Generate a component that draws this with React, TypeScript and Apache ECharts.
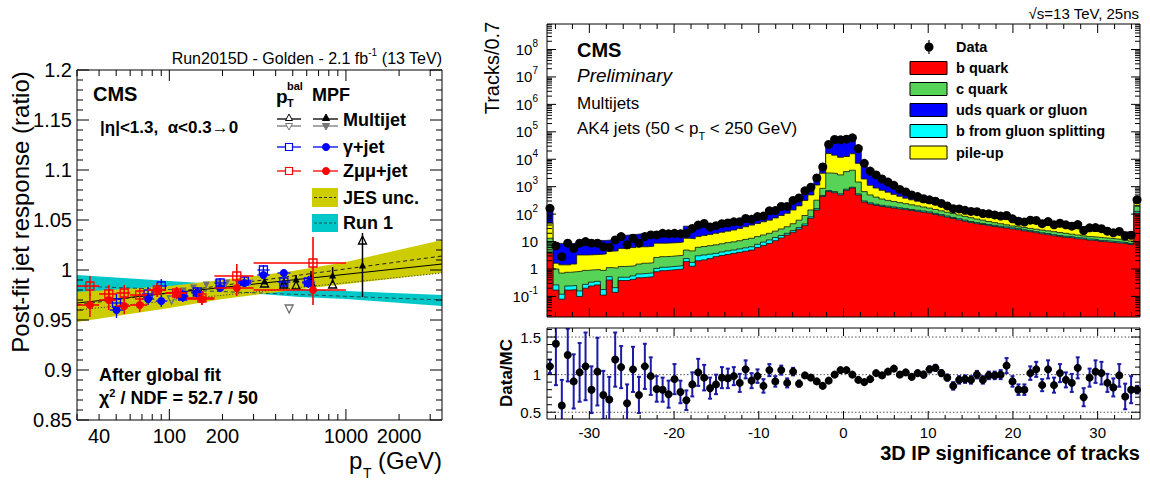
import React, { useEffect, useRef } from "react";
import * as echarts from "echarts";

const FONT = "'Liberation Sans', Arial, Helvetica, sans-serif";
const lg = (v: number) => Math.log10(v);

// ================= Left panel: post-fit jet response =================
const respPtMin = 30;
const respPtMax = 3500;
const respYMin = 0.85;
const respYMax = 1.2;
const respXTickValues = [30, 40, 50, 60, 70, 80, 90, 100, 200, 300, 400, 500, 600, 700, 800, 900, 1000, 2000, 3000];
const respXTickLabels = ["", "40", "", "", "", "", "", "100", "200", "", "", "", "", "", "", "", "1000", "2000", ""];
const respYTickLabels = ["0.85", "0.9", "0.95", "1", "1.05", "1.1", "1.15", "1.2"];

// Z(mumu)+jet
const zjetPt = [35.5, 45.4, 55.5, 68, 85.5, 110, 153, 241, 651];
const zjetPtLow = [30, 40, 50, 60, 75, 95, 125, 180, 300];
const zjetPtHigh = [40, 50, 60, 75, 95, 125, 180, 300, 1000];
const zjetMpf = [0.965, 0.970, 0.964, 0.965, 0.980, 0.977, 0.971, 0.982, 0.980];
const zjetMpfErr = [0.012, 0.010, 0.008, 0.007, 0.007, 0.006, 0.006, 0.008, 0.015];
const zjetBal = [0.984, 0.976, 0.977, 0.975, 0.980, 0.977, 0.972, 0.994, 1.007];
const zjetBalErr = [0.010, 0.009, 0.008, 0.007, 0.007, 0.006, 0.007, 0.012, 0.026];

// gamma+jet
const gjetPt = [50.2, 75.8, 90, 119, 144, 194, 266, 341, 445, 613];
const gjetPtLow = [46, 70, 84, 110, 133, 180, 245, 315, 410, 565];
const gjetPtHigh = [55, 82, 97, 128, 156, 210, 290, 370, 485, 665];
const gjetMpf = [0.960, 0.971, 0.969, 0.973, 0.977, 0.982, 0.987, 0.995, 0.997, 0.987];
const gjetMpfErr = [0.008, 0.006, 0.006, 0.005, 0.005, 0.004, 0.004, 0.004, 0.004, 0.005];
const gjetBal = [0.967, 0.976, 0.984, 0.974, 0.978, 0.987, 0.989, 1.000, 0.988, 0.988];
const gjetBalErr = [0.009, 0.007, 0.007, 0.006, 0.005, 0.005, 0.005, 0.005, 0.005, 0.006];

// Multijet
const mjPt = [346, 445, 522, 634, 841, 1241];
const mjMpf = [0.989, 0.989, 0.991, 0.993, 0.995, 1.005];
const mjMpfErr = [0.003, 0.003, 0.004, 0.006, 0.008, 0.032];
const mjBal = [0.987, 0.986, 0.985, 0.988, 0.986, 1.030];
// Multijet (second reference, grey)
const mjAltMpfPt = [120, 137, 162, 188, 211, 245, 286, 445];
const mjAltMpf = [0.979, 0.982, 0.985, 0.987, 0.987, 0.986, 0.987, 0.984];
const mjAltBalPt = [103, 477];
const mjAltBal = [0.970, 0.961];

// Bands and fit lines
const jesPt = [30, 100, 200, 500, 1000, 3500];
const jesLow = [0.948, 0.962, 0.971, 0.980, 0.986, 0.997];
const jesHigh = [0.978, 0.984, 0.990, 0.999, 1.008, 1.030];
const run1Pt = [30, 100, 230, 550, 1000, 3500];
const run1Low = [0.972, 0.977, 0.978, 0.973, 0.971, 0.964];
const run1High = [0.995, 0.989, 0.985, 0.981, 0.979, 0.975];
const linePt = [30, 3500];
const fitMpfLine = [0.967, 1.006];
const fitBalLine = [0.960, 0.997];
const jesCenterLine = [0.965, 1.014];
const run1CenterLine = [0.984, 0.970];

// ================= Right panel: 3D IP significance =================
const IP_MIN = -35;
const IP_MAX = 35;
const BIN_W = 0.7;
const TOP_YMIN = -1.75; // log10(tracks)
const TOP_YMAX = 8.93;
const RATIO_YMIN = 0.41;
const RATIO_YMAX = 1.62;
const ipTickLabels: Record<string, string> = { "-30": "-30", "-20": "-20", "-10": "-10", "0": "0", "10": "10", "20": "20", "30": "30" };

// cumulative stack heights, log10(tracks / 0.7), bottom to top
const bQuarkTop = [
  0.57, -0.77, -1.10, -0.77, -0.75, -1.00, -0.70, -0.62, -0.58, -0.95,
  -0.40, -0.85, -0.42, -0.42, -0.38, -0.32, -0.30, -0.28, -0.10, -0.06,
  -0.04, -0.02, 0.00, 0.27, 0.10, 0.30, 0.33, 0.38, 0.45, 0.49,
  0.53, 0.57, 0.61, 0.65, 0.69, 0.78, 0.86, 0.93, 1.03, 1.13,
  1.24, 1.34, 1.45, 1.58, 1.85, 2.15, 2.64, 2.82, 2.78, 2.70,
  2.87, 2.95, 2.70, 2.44, 2.37, 2.32, 2.28, 2.25, 2.22, 2.19,
  2.16, 2.13, 2.10, 2.07, 2.04, 1.99, 1.94, 1.89, 1.84, 1.79,
  1.74, 1.69, 1.65, 1.62, 1.58, 1.55, 1.52, 1.49, 1.46, 1.43,
  1.39, 1.36, 1.32, 1.28, 1.25, 1.21, 1.18, 1.15, 1.13, 1.10,
  1.08, 1.05, 1.03, 1.00, 0.98, 0.96, 0.94, 0.92, 0.89, 2.04,
];
const gluonSplitTop = [
  0.62, -0.58, -0.92, -0.62, -0.60, -0.80, -0.56, -0.48, -0.45, -0.75,
  -0.28, -0.68, -0.30, -0.30, -0.25, -0.18, -0.16, -0.14, 0.02, 0.06,
  0.08, 0.10, 0.12, 0.38, 0.24, 0.48, 0.51, 0.54, 0.57, 0.62,
  0.66, 0.69, 0.73, 0.77, 0.81, 0.90, 0.98, 1.06, 1.15, 1.22,
  1.30, 1.40, 1.51, 1.64, 1.90, 2.20, 2.68, 2.86, 2.82, 2.74,
  2.91, 2.98, 2.74, 2.48, 2.41, 2.36, 2.32, 2.29, 2.26, 2.23,
  2.20, 2.17, 2.14, 2.11, 2.08, 2.03, 1.98, 1.93, 1.88, 1.83,
  1.78, 1.73, 1.69, 1.66, 1.62, 1.59, 1.56, 1.53, 1.50, 1.47,
  1.43, 1.40, 1.36, 1.32, 1.29, 1.25, 1.22, 1.19, 1.17, 1.14,
  1.12, 1.09, 1.07, 1.04, 1.02, 1.00, 0.98, 0.96, 0.93, 2.10,
];
const cQuarkTop = [
  1.12, 0.00, -0.15, -0.12, -0.10, -0.08, -0.05, -0.03, -0.02, -0.05,
  0.05, 0.03, 0.09, 0.10, 0.12, 0.18, 0.21, 0.23, 0.42, 0.45,
  0.46, 0.48, 0.50, 0.69, 0.66, 0.79, 0.82, 0.85, 0.88, 0.92,
  0.96, 0.99, 1.03, 1.08, 1.12, 1.18, 1.24, 1.30, 1.38, 1.46,
  1.54, 1.65, 1.78, 1.95, 2.15, 2.51, 2.94, 3.50, 3.48, 3.43,
  3.55, 3.60, 3.17, 2.82, 2.70, 2.62, 2.55, 2.50, 2.46, 2.42,
  2.38, 2.34, 2.30, 2.26, 2.22, 2.17, 2.12, 2.07, 2.02, 1.97,
  1.92, 1.87, 1.82, 1.78, 1.73, 1.69, 1.65, 1.61, 1.57, 1.54,
  1.51, 1.48, 1.45, 1.42, 1.39, 1.36, 1.33, 1.30, 1.27, 1.24,
  1.21, 1.18, 1.16, 1.14, 1.12, 1.10, 1.08, 1.05, 1.02, 2.30,
];
const pileupTop = [
  1.67, 0.21, 0.15, 0.15, 0.18, 0.51, 0.51, 0.52, 0.53, 0.55,
  0.65, 0.66, 0.75, 0.75, 0.78, 0.81, 0.81, 0.83, 0.94, 0.94,
  0.95, 0.96, 0.98, 1.12, 1.10, 1.18, 1.22, 1.26, 1.30, 1.34,
  1.38, 1.42, 1.48, 1.54, 1.60, 1.66, 1.72, 1.78, 1.86, 1.95,
  2.03, 2.15, 2.30, 2.50, 2.70, 3.06, 3.49, 4.21, 4.15, 4.07,
  4.10, 4.20, 3.85, 3.28, 3.05, 2.95, 2.87, 2.80, 2.72, 2.65,
  2.58, 2.52, 2.47, 2.43, 2.39, 2.34, 2.29, 2.24, 2.19, 2.14,
  2.10, 2.05, 2.01, 1.97, 1.93, 1.88, 1.84, 1.80, 1.77, 1.74,
  1.71, 1.68, 1.65, 1.62, 1.59, 1.56, 1.53, 1.50, 1.47, 1.45,
  1.42, 1.40, 1.37, 1.35, 1.32, 1.30, 1.28, 1.26, 1.24, 2.45,
];
const udsTop = [
  2.21, 0.94, 0.92, 0.92, 0.94, 0.96, 0.98, 1.00, 1.00, 1.04,
  1.06, 1.06, 1.22, 1.24, 1.26, 1.28, 1.30, 1.32, 1.34, 1.36,
  1.38, 1.40, 1.42, 1.56, 1.56, 1.58, 1.60, 1.62, 1.64, 1.67,
  1.70, 1.73, 1.77, 1.81, 1.85, 1.92, 2.00, 2.09, 2.17, 2.25,
  2.33, 2.48, 2.65, 2.85, 3.00, 3.36, 3.79, 4.58, 4.72, 4.68,
  4.70, 4.78, 4.42, 3.90, 3.60, 3.42, 3.28, 3.15, 3.02, 2.90,
  2.80, 2.71, 2.63, 2.56, 2.49, 2.43, 2.38, 2.32, 2.27, 2.22,
  2.17, 2.13, 2.09, 2.05, 2.01, 1.97, 1.93, 1.90, 1.87, 1.84,
  1.81, 1.77, 1.74, 1.72, 1.70, 1.68, 1.66, 1.64, 1.61, 1.58,
  1.55, 1.52, 1.49, 1.46, 1.43, 1.40, 1.37, 1.35, 1.33, 2.62,
];
const dataLog = [
  2.21, 0.84, 0.45, 0.94, 0.75, 0.94, 1.00, 0.94, 0.94, 0.81,
  0.79, 1.06, 1.18, 0.88, 1.12, 0.94, 1.18, 1.24, 1.24, 1.30,
  1.28, 1.30, 1.28, 1.30, 1.48, 1.60, 1.66, 1.53, 1.58, 1.65,
  1.68, 1.72, 1.72, 1.84, 1.81, 1.91, 1.93, 2.12, 2.13, 2.28,
  2.28, 2.50, 2.59, 2.85, 2.98, 3.32, 3.72, 4.54, 4.72, 4.71,
  4.73, 4.78, 4.39, 3.85, 3.57, 3.43, 3.28, 3.17, 3.05, 2.90,
  2.81, 2.70, 2.64, 2.56, 2.52, 2.47, 2.39, 2.30, 2.20, 2.19,
  2.14, 2.10, 2.09, 2.02, 2.01, 1.97, 1.93, 1.95, 1.83, 1.74,
  1.71, 1.78, 1.77, 1.65, 1.73, 1.61, 1.67, 1.61, 1.56, 1.62,
  1.40, 1.50, 1.51, 1.47, 1.38, 1.32, 1.37, 1.20, 1.23, 2.52,
];
const ratioVal = [
  1.11, 1.41, 0.59, 1.26, 0.91, 1.03, 1.11, 0.80, 1.04, 0.73,
  0.67, 1.20, 1.10, 0.62, 1.07, 0.73, 1.11, 0.98, 0.81, 0.80,
  0.74, 0.94, 0.77, 0.66, 0.87, 1.03, 0.96, 0.82, 0.87, 0.96,
  0.95, 0.98, 0.89, 1.07, 0.92, 0.98, 0.85, 1.06, 0.91, 1.06,
  0.89, 1.04, 0.88, 0.99, 0.96, 0.91, 0.85, 0.92, 1.00, 1.06,
  1.06, 1.00, 0.93, 0.90, 0.94, 1.02, 0.99, 1.04, 1.08, 1.00,
  1.03, 0.97, 1.02, 1.00, 1.07, 1.09, 1.02, 0.96, 0.85, 0.93,
  0.94, 0.93, 1.00, 0.93, 0.99, 0.99, 1.00, 1.12, 0.91, 0.80,
  0.80, 1.02, 1.07, 0.86, 1.07, 0.86, 1.02, 0.93, 0.89, 1.09,
  0.70, 0.96, 1.04, 1.02, 0.89, 0.83, 0.99, 0.71, 0.80, 0.80,
];
const ratioErr = [
  0.09, 0.55, 0.34, 0.35, 0.36, 0.39, 0.45, 0.31, 0.45, 0.32,
  0.30, 0.36, 0.28, 0.25, 0.30, 0.24, 0.30, 0.25, 0.17, 0.16,
  0.18, 0.20, 0.15, 0.13, 0.16, 0.18, 0.17, 0.14, 0.13, 0.14,
  0.13, 0.12, 0.12, 0.12, 0.10, 0.09, 0.09, 0.08, 0.07, 0.06,
  0.06, 0.05, 0.04, 0.02, 0.02, 0.01, 0.01, 0.01, 0.01, 0.01,
  0.01, 0.01, 0.01, 0.01, 0.01, 0.01, 0.02, 0.02, 0.02, 0.03,
  0.03, 0.03, 0.03, 0.04, 0.04, 0.04, 0.04, 0.04, 0.05, 0.05,
  0.05, 0.05, 0.05, 0.05, 0.05, 0.05, 0.06, 0.10, 0.07, 0.07,
  0.07, 0.09, 0.10, 0.08, 0.12, 0.10, 0.12, 0.10, 0.12, 0.14,
  0.12, 0.12, 0.15, 0.15, 0.12, 0.12, 0.15, 0.17, 0.18, 0.05,
];

const COL = {
  b: "#ff0000",
  gs: "#00ffff",
  c: "#57d457",
  pu: "#ffff00",
  uds: "#0000ff",
  jes: "#cccc00",
  run1: "#00c8c8",
  ratioErr: "#1b1ba8",
};

// ---------------- helpers ----------------
function frameSeries(gi: number, xr: number[], yr: number[]) {
  return {
    type: "custom", xAxisIndex: gi, yAxisIndex: gi, silent: true, clip: false, z: 30,
    data: [[xr[0], yr[0]]],
    renderItem: (_p: any, api: any) => {
      const a = api.coord([xr[0], yr[1]]);
      const b = api.coord([xr[1], yr[0]]);
      return { type: "rect", shape: { x: a[0], y: a[1], width: b[0] - a[0], height: b[1] - a[1] }, style: { fill: "none", stroke: "#000", lineWidth: 1 } };
    },
  };
}

function tickSeries(gi: number, dir: "x" | "y", vals: number[], majors: boolean[], labels: string[], xr: number[], yr: number[], majLen: number, minLen: number, gap: number, fontSize: number, rich?: any) {
  return {
    type: "custom", xAxisIndex: gi, yAxisIndex: gi, silent: true, clip: false, z: 31,
    data: vals.map((v) => (dir === "x" ? [v, yr[0]] : [xr[0], v])),
    encode: { x: 0, y: 1 },
    renderItem: (params: any, api: any) => {
      const i = params.dataIndex;
      const v = vals[i];
      const L = majors[i] ? majLen : minLen;
      const ls = { stroke: "#000", lineWidth: 1 };
      const ch: any[] = [];
      if (dir === "x") {
        const a = api.coord([v, yr[0]]);
        const b = api.coord([v, yr[1]]);
        ch.push({ type: "line", shape: { x1: a[0], y1: a[1], x2: a[0], y2: a[1] - L }, style: ls });
        ch.push({ type: "line", shape: { x1: b[0], y1: b[1], x2: b[0], y2: b[1] + L }, style: ls });
        if (labels[i]) ch.push({ type: "text", x: a[0], y: a[1] + gap, style: { text: labels[i], fontSize, fontFamily: FONT, fill: "#000", align: "center", verticalAlign: "middle" } });
      } else {
        const a = api.coord([xr[0], v]);
        const b = api.coord([xr[1], v]);
        ch.push({ type: "line", shape: { x1: a[0], y1: a[1], x2: a[0] + L, y2: a[1] }, style: ls });
        ch.push({ type: "line", shape: { x1: b[0], y1: b[1], x2: b[0] - L, y2: b[1] }, style: ls });
        if (labels[i]) ch.push({ type: "text", x: a[0] - gap, y: a[1], style: { text: labels[i], fontSize, fontFamily: FONT, fill: "#000", align: "right", verticalAlign: "middle", lineHeight: 22, rich: rich || {} } });
      }
      return { type: "group", children: ch };
    },
  };
}

function bandSeries(pt: number[], low: number[], high: number[], color: string, z: number) {
  return {
    type: "custom", xAxisIndex: 0, yAxisIndex: 0, silent: true, clip: true, z,
    data: [[lg(pt[0]), low[0]]],
    renderItem: (_p: any, api: any) => {
      const pts: number[][] = [];
      for (let i = 0; i < pt.length; i++) pts.push(api.coord([lg(pt[i]), high[i]]));
      for (let i = pt.length - 1; i >= 0; i--) pts.push(api.coord([lg(pt[i]), low[i]]));
      return { type: "polygon", shape: { points: pts }, style: { fill: color } };
    },
  };
}

function lineSeries(vals: number[], type: any, color: string, z: number) {
  return {
    type: "line", xAxisIndex: 0, yAxisIndex: 0, silent: true, symbol: "none", z,
    data: linePt.map((p, i) => [lg(p), vals[i]]),
    lineStyle: { color, width: 1, type },
  };
}

function errSeries(pt: number[], val: number[], err: number[], lo: number[] | null, hi: number[] | null, color: string, width: number, z: number) {
  return {
    type: "custom", xAxisIndex: 0, yAxisIndex: 0, silent: true, clip: true, z,
    data: pt.map((p, i) => [lg(p), val[i]]),
    renderItem: (params: any, api: any) => {
      const i = params.dataIndex;
      const x = lg(pt[i]);
      const top = api.coord([x, val[i] + err[i]]);
      const bot = api.coord([x, val[i] - err[i]]);
      const ch: any[] = [{ type: "line", shape: { x1: top[0], y1: top[1], x2: bot[0], y2: bot[1] }, style: { stroke: color, lineWidth: width } }];
      if (lo && hi) {
        const l = api.coord([lg(lo[i]), val[i]]);
        const r = api.coord([lg(hi[i]), val[i]]);
        ch.push({ type: "line", shape: { x1: l[0], y1: l[1], x2: r[0], y2: r[1] }, style: { stroke: color, lineWidth: width } });
      }
      return { type: "group", children: ch };
    },
  };
}

function markerSeries(pt: number[], val: number[], symbol: string, size: number, color: string, filled: boolean, rotate: number, z: number) {
  return {
    type: "scatter", xAxisIndex: 0, yAxisIndex: 0, silent: true, z,
    data: pt.map((p, i) => [lg(p), val[i]]),
    symbol, symbolSize: size, symbolRotate: rotate,
    itemStyle: filled ? { color, opacity: 1 } : { color: "rgba(255,255,255,0)", borderColor: color, borderWidth: 1.3, opacity: 1 },
  };
}

function binLow(i: number) {
  return IP_MIN + i * BIN_W;
}

function stepSeries(vals: number[], color: string, z: number) {
  const data: number[][] = [];
  vals.forEach((v, i) => {
    data.push([binLow(i), v]);
    data.push([binLow(i) + BIN_W, v]);
  });
  return {
    type: "line", xAxisIndex: 1, yAxisIndex: 1, silent: true, symbol: "none", z,
    data,
    lineStyle: { color: "#111", width: 0.8 },
    areaStyle: { color, opacity: 1, origin: "start" },
  };
}

function buildOption() {
  // ---- tick definitions ----
  const respYVals: number[] = [];
  const respYMaj: boolean[] = [];
  const respYLab: string[] = [];
  for (let k = 85; k <= 120; k++) {
    respYVals.push(k / 100);
    const maj = k % 5 === 0;
    respYMaj.push(maj);
    respYLab.push(maj ? respYTickLabels[(k - 85) / 5] : "");
  }
  const respXVals = respXTickValues.map(lg);
  const respXMaj = respXTickValues.map((v) => v === 100 || v === 1000);

  const ipVals: number[] = [];
  const ipMaj: boolean[] = [];
  const ipLab: string[] = [];
  for (let v = -34; v <= 34; v += 2) {
    ipVals.push(v);
    ipMaj.push(v % 10 === 0);
    ipLab.push(ipTickLabels[String(v)] || "");
  }

  const logVals: number[] = [];
  const logMaj: boolean[] = [];
  const logLab: string[] = [];
  for (let n = -2; n <= 8; n++) {
    for (let k = 1; k <= 9; k++) {
      const v = n + Math.log10(k);
      if (v < TOP_YMIN || v > TOP_YMAX) continue;
      logVals.push(v);
      logMaj.push(k === 1);
      let lab = "";
      if (k === 1) lab = n === 0 ? "1" : n === 1 ? "10" : `10{s|${n}}`;
      logLab.push(lab);
    }
  }

  const ratioYVals: number[] = [];
  const ratioYMaj: boolean[] = [];
  const ratioYLab: string[] = [];
  for (let k = 5; k <= 16; k++) {
    ratioYVals.push(k / 10);
    ratioYMaj.push(k === 5 || k === 10 || k === 15);
    ratioYLab.push(k === 5 ? "0.5" : k === 10 ? "1" : k === 15 ? "1.5" : "");
  }

  const supRich = { s: { fontSize: 10, lineHeight: 10, verticalAlign: "top", fontFamily: FONT } };

  const series: any[] = [
    // ---------- left panel ----------
    bandSeries(run1Pt, run1Low, run1High, COL.run1, 1),
    bandSeries(jesPt, jesLow, jesHigh, COL.jes, 2),
    lineSeries(run1CenterLine, [4, 3], "#1f4f4f", 3),
    lineSeries(jesCenterLine, [4, 3], "#222", 3),
    lineSeries(fitMpfLine, "solid", "#000", 3),
    lineSeries(fitBalLine, [1, 2], "#333", 3),
    markerSeries(mjAltMpfPt, mjAltMpf, "triangle", 7, "#6e6e6e", true, 180, 5),
    markerSeries(mjAltBalPt, mjAltBal, "triangle", 8, "#6e6e6e", false, 180, 5),
    errSeries(mjPt, mjMpf, mjMpfErr, null, null, "#000", 1.5, 6),
    markerSeries(mjPt, mjBal, "triangle", 8, "#000", false, 0, 6),
    markerSeries(mjPt, mjMpf, "triangle", 7, "#000", true, 0, 6),
    errSeries(gjetPt, gjetBal, gjetBalErr, gjetPtLow, gjetPtHigh, "#0000ff", 1.3, 7),
    errSeries(gjetPt, gjetMpf, gjetMpfErr, gjetPtLow, gjetPtHigh, "#0000ff", 1.3, 7),
    markerSeries(gjetPt, gjetBal, "rect", 8, "#0000ff", false, 0, 7),
    markerSeries(gjetPt, gjetMpf, "circle", 8, "#0000ff", true, 0, 7),
    errSeries(zjetPt, zjetBal, zjetBalErr, zjetPtLow, zjetPtHigh, "#ff0000", 1.6, 8),
    errSeries(zjetPt, zjetMpf, zjetMpfErr, zjetPtLow, zjetPtHigh, "#ff0000", 1.6, 8),
    markerSeries(zjetPt, zjetBal, "rect", 8, "#ff0000", false, 0, 8),
    markerSeries(zjetPt, zjetMpf, "circle", 8, "#ff0000", true, 0, 8),
    frameSeries(0, [lg(respPtMin), lg(respPtMax)], [respYMin, respYMax]),
    tickSeries(0, "y", respYVals, respYMaj, respYLab, [lg(respPtMin), lg(respPtMax)], [respYMin, respYMax], 12, 6, 5, 20),
    tickSeries(0, "x", respXVals, respXMaj, respXTickLabels, [lg(respPtMin), lg(respPtMax)], [respYMin, respYMax], 11, 6, 16, 20),

    // ---------- right top panel: stacked histogram ----------
    stepSeries(udsTop, COL.uds, 2),
    stepSeries(pileupTop, COL.pu, 3),
    stepSeries(cQuarkTop, COL.c, 4),
    stepSeries(gluonSplitTop, COL.gs, 5),
    stepSeries(bQuarkTop, COL.b, 6),
    {
      type: "scatter", xAxisIndex: 1, yAxisIndex: 1, silent: true, z: 8,
      data: dataLog.map((v, i) => [binLow(i) + BIN_W / 2, v]),
      symbol: "circle", symbolSize: 9, itemStyle: { color: "#000", opacity: 1 },
    },
    frameSeries(1, [IP_MIN, IP_MAX], [TOP_YMIN, TOP_YMAX]),
    tickSeries(1, "x", ipVals, ipMaj, ipVals.map(() => ""), [IP_MIN, IP_MAX], [TOP_YMIN, TOP_YMAX], 9, 5, 0, 15),
    tickSeries(1, "y", logVals, logMaj, logLab, [IP_MIN, IP_MAX], [TOP_YMIN, TOP_YMAX], 9, 5, 9, 15, supRich),

    // ---------- right bottom panel: ratio ----------
    {
      type: "custom", xAxisIndex: 2, yAxisIndex: 2, silent: true, clip: true, z: 3,
      data: [0.5, 1, 1.5].map((v) => [IP_MIN, v]),
      renderItem: (_p: any, api: any) => {
        const v = api.value(1);
        const a = api.coord([IP_MIN, v]);
        const b = api.coord([IP_MAX, v]);
        return { type: "line", shape: { x1: a[0], y1: a[1], x2: b[0], y2: b[1] }, style: { stroke: "#555", lineWidth: 1, lineDash: [1.5, 2] } };
      },
    },
    {
      type: "custom", xAxisIndex: 2, yAxisIndex: 2, silent: true, clip: true, z: 5,
      data: ratioVal.map((v, i) => [binLow(i) + BIN_W / 2, v]),
      renderItem: (params: any, api: any) => {
        const i = params.dataIndex;
        const x = binLow(i) + BIN_W / 2;
        const top = api.coord([x, ratioVal[i] + ratioErr[i]]);
        const bot = api.coord([x, ratioVal[i] - ratioErr[i]]);
        const st = { stroke: COL.ratioErr, lineWidth: 2 };
        return {
          type: "group",
          children: [
            { type: "line", shape: { x1: top[0], y1: top[1], x2: bot[0], y2: bot[1] }, style: st },
            { type: "line", shape: { x1: top[0] - 2, y1: top[1], x2: top[0] + 2, y2: top[1] }, style: st },
            { type: "line", shape: { x1: bot[0] - 2, y1: bot[1], x2: bot[0] + 2, y2: bot[1] }, style: st },
          ],
        };
      },
    },
    {
      type: "scatter", xAxisIndex: 2, yAxisIndex: 2, silent: true, z: 8,
      data: ratioVal.map((v, i) => [binLow(i) + BIN_W / 2, v]),
      symbol: "circle", symbolSize: 8, itemStyle: { color: "#000", opacity: 1 },
    },
    frameSeries(2, [IP_MIN, IP_MAX], [RATIO_YMIN, RATIO_YMAX]),
    tickSeries(2, "x", ipVals, ipMaj, ipLab, [IP_MIN, IP_MAX], [RATIO_YMIN, RATIO_YMAX], 8, 4, 13, 15),
    tickSeries(2, "y", ratioYVals, ratioYMaj, ratioYLab, [IP_MIN, IP_MAX], [RATIO_YMIN, RATIO_YMAX], 9, 5, 6, 15),
  ];

  const txt = (x: number, y: number, text: string, size: number, extra: any = {}, el: any = {}) => ({
    type: "text", x, y, silent: true, z: 100, ...el,
    style: { text, fontSize: size, fontFamily: FONT, fill: "#000", align: "left", verticalAlign: "middle", ...extra },
  });
  const hline = (x1: number, x2: number, y: number, color: string) => ({
    type: "line", silent: true, z: 100, shape: { x1, y1: y, x2, y2: y }, style: { stroke: color, lineWidth: 1.3 },
  });
  const tri = (cx: number, cy: number, up: boolean, color: string, filled: boolean) => ({
    type: "polygon", silent: true, z: 101,
    shape: { points: up ? [[cx, cy - 4], [cx - 3.5, cy + 2.5], [cx + 3.5, cy + 2.5]] : [[cx - 3.5, cy - 2.5], [cx + 3.5, cy - 2.5], [cx, cy + 4]] },
    style: { fill: filled ? color : "#fff", stroke: color, lineWidth: 1 },
  });
  const sq = (cx: number, cy: number, color: string) => ({
    type: "rect", silent: true, z: 101, shape: { x: cx - 3.5, y: cy - 3.5, width: 7, height: 7 }, style: { fill: "#fff", stroke: color, lineWidth: 1.2 },
  });
  const dot = (cx: number, cy: number, r: number, color: string) => ({
    type: "circle", silent: true, z: 101, shape: { cx, cy, r }, style: { fill: color },
  });
  const box = (x: number, y: number, w: number, h: number, fill: string, stroke: string | null) => ({
    type: "rect", silent: true, z: 100, shape: { x, y, width: w, height: h }, style: { fill, stroke: stroke || "none", lineWidth: 1 },
  });

  const graphics: any[] = [
    // ---- left panel texts ----
    txt(442, 58, "Run2015D - Golden - 2.1 fb{s|-1} (13 TeV)", 16, { align: "right", lineHeight: 22, rich: { s: { fontSize: 10, lineHeight: 10, verticalAlign: "top", fontFamily: FONT } } }),
    txt(93, 94, "CMS", 20, { fontWeight: "bold" }),
    txt(100, 127, "|η|<1.3,  α<0.3→0", 17, { fontWeight: "bold" }),
    txt(276, 96, "p", 19, { fontWeight: "bold" }),
    txt(287, 86, "bal", 11, { fontWeight: "bold" }),
    txt(287, 103, "T", 11, { fontWeight: "bold" }),
    txt(312, 95, "MPF", 18, { fontWeight: "bold" }),
    hline(277, 301, 119, "#000"), hline(277, 301, 126, "#777"),
    hline(313, 338, 119, "#000"), hline(313, 338, 126, "#777"),
    tri(289, 118, true, "#000", false), tri(289, 126, false, "#777", false),
    tri(326, 118, true, "#000", true), tri(326, 126, false, "#777", true),
    txt(343, 120, "Multijet", 18, { fontWeight: "bold" }),
    hline(277, 301, 147, "#0000ff"), sq(289, 147, "#0000ff"),
    hline(313, 338, 147, "#0000ff"), dot(326, 147, 4, "#0000ff"),
    txt(343, 147, "γ+jet", 18, { fontWeight: "bold" }),
    hline(277, 301, 171, "#ff0000"), sq(289, 171, "#ff0000"),
    hline(313, 338, 171, "#ff0000"), dot(326, 171, 4, "#ff0000"),
    txt(343, 171, "Zμμ+jet", 18, { fontWeight: "bold" }),
    box(312, 188, 26, 19, COL.jes, null),
    { type: "line", silent: true, z: 101, shape: { x1: 314, y1: 197.5, x2: 336, y2: 197.5 }, style: { stroke: "#333", lineWidth: 1, lineDash: [3, 2] } },
    txt(343, 198, "JES unc.", 18, { fontWeight: "bold" }),
    box(312, 214, 26, 18, COL.run1, null),
    { type: "line", silent: true, z: 101, shape: { x1: 314, y1: 223, x2: 336, y2: 223 }, style: { stroke: "#1f4f4f", lineWidth: 1, lineDash: [3, 2] } },
    txt(343, 223, "Run 1", 18, { fontWeight: "bold" }),
    txt(99, 375, "After global fit", 18, { fontWeight: "bold" }),
    txt(99, 398, "χ{s|2} / NDF = 52.7 / 50", 18, { fontWeight: "bold", lineHeight: 22, rich: { s: { fontSize: 11, lineHeight: 11, verticalAlign: "top", fontWeight: "bold", fontFamily: FONT } } }),
    txt(20, 212, "Post-fit jet response (ratio)", 24, { align: "center" }, { rotation: Math.PI / 2 }),
    txt(349, 460, "p", 24),
    txt(363, 473, "T", 14),
    txt(442, 460, "(GeV)", 24, { align: "right" }),

    // ---- right panel texts ----
    txt(1139, 13, "√s=13 TeV, 25ns", 15, { align: "right" }),
    txt(577, 50, "CMS", 20, { fontWeight: "bold" }),
    txt(577, 75, "Preliminary", 19, { fontStyle: "italic" }),
    txt(577, 103, "Multijets", 17),
    txt(577, 128, "AK4 jets (50 < p{t|T} < 250 GeV)", 17, { lineHeight: 26, rich: { t: { fontSize: 11, lineHeight: 11, verticalAlign: "bottom", fontFamily: FONT } } }),
    txt(492, 68, "Tracks/0.7", 20, { align: "center" }, { rotation: Math.PI / 2 }),
    txt(506, 373, "Data/MC", 17, { align: "center", fontWeight: "bold" }, { rotation: Math.PI / 2 }),
    txt(1140, 453, "3D IP significance of tracks", 20, { align: "right", fontWeight: "bold" }),
    // legend
    { type: "line", silent: true, z: 101, shape: { x1: 929, y1: 40, x2: 929, y2: 54 }, style: { stroke: "#000", lineWidth: 1.2 } },
    dot(929, 47, 4.5, "#000"),
    txt(956, 47, "Data", 14.5, { fontWeight: "bold" }),
    box(910, 61.5, 37, 13, COL.b, "#000"), txt(956, 68, "b quark", 14.5, { fontWeight: "bold" }),
    box(910, 82.5, 37, 13, COL.c, "#000"), txt(956, 89, "c quark", 14.5, { fontWeight: "bold" }),
    box(910, 103.5, 37, 13, COL.uds, "#000"), txt(956, 110, "uds quark or gluon", 14.5, { fontWeight: "bold" }),
    box(910, 124.5, 37, 13, COL.gs, "#000"), txt(956, 131, "b from gluon splitting", 14.5, { fontWeight: "bold" }),
    box(910, 146, 37, 13, COL.pu, "#000"), txt(956, 152.5, "pile-up", 14.5, { fontWeight: "bold" }),
  ];

  return {
    animation: false,
    backgroundColor: "#fff",
    grid: [
      { left: 77, top: 70, width: 365, height: 350, show: false },
      { left: 547, top: 24, width: 593, height: 293, show: false },
      { left: 547, top: 328, width: 593, height: 91, show: false },
    ],
    xAxis: [
      { gridIndex: 0, type: "value", min: lg(respPtMin), max: lg(respPtMax), show: false },
      { gridIndex: 1, type: "value", min: IP_MIN, max: IP_MAX, show: false },
      { gridIndex: 2, type: "value", min: IP_MIN, max: IP_MAX, show: false },
    ],
    yAxis: [
      { gridIndex: 0, type: "value", min: respYMin, max: respYMax, show: false },
      { gridIndex: 1, type: "value", min: TOP_YMIN, max: TOP_YMAX, show: false },
      { gridIndex: 2, type: "value", min: RATIO_YMIN, max: RATIO_YMAX, show: false },
    ],
    series,
    graphic: { elements: graphics },
  };
}

export default function App() {
  const ref = useRef<HTMLDivElement>(null);
  useEffect(() => {
    const chart = echarts.init(ref.current!, null, { renderer: "svg" });
    chart.setOption(buildOption() as any);
    return () => chart.dispose();
  }, []);
  return <div ref={ref} style={{ position: "absolute", left: 0, top: 0, width: 1150, height: 481, background: "#fff" }} />;
}
